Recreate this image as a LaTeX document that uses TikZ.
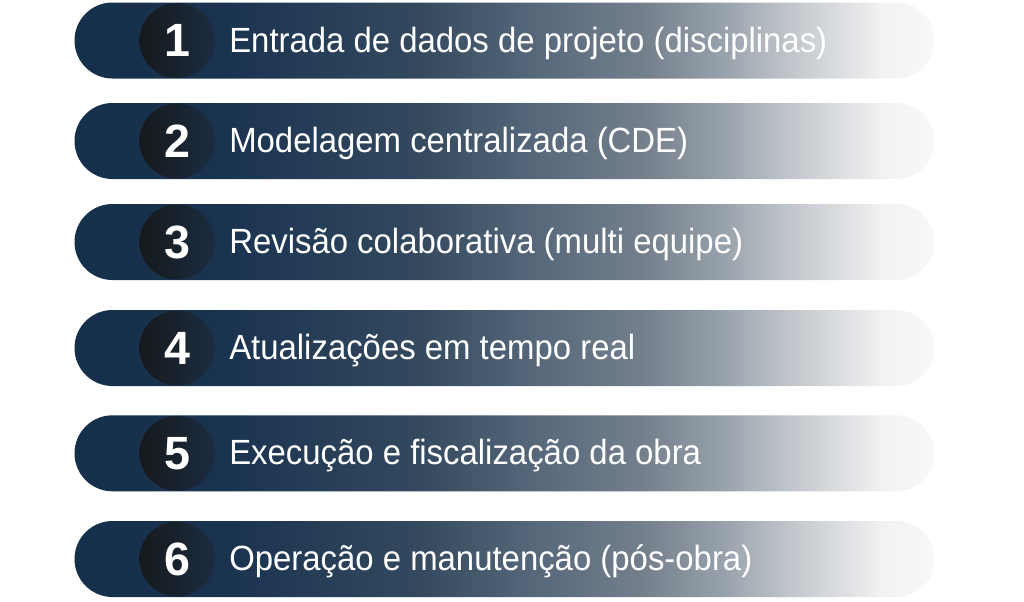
\documentclass[tikz,border=0pt]{standalone}
\usepackage{fontspec}
\setmainfont{Liberation Sans}
\newfontfamily\labelfont{Liberation Sans}[FakeStretch=0.94]
\usetikzlibrary{shapes.misc}
\definecolor{s0}{RGB}{21,48,74}
\definecolor{s1}{RGB}{26,51,80}
\definecolor{s2}{RGB}{52,73,94}
\definecolor{s3}{RGB}{90,107,125}
\definecolor{s4}{RGB}{116,127,140}
\definecolor{s5}{RGB}{150,160,170}
\definecolor{s6}{RGB}{197,201,206}
\definecolor{s7}{RGB}{242,242,243}
\definecolor{s8}{RGB}{248,248,248}
\definecolor{cl}{RGB}{22,25,28}
\definecolor{cr}{RGB}{27,44,64}
\pgfdeclarehorizontalshading{barshade}{100bp}{color(0bp)=(s0); color(25bp)=(s0); color(34bp)=(s1); color(45bp)=(s2); color(52.6bp)=(s3); color(58bp)=(s4); color(62.5bp)=(s5); color(67bp)=(s6); color(72bp)=(s7); color(75bp)=(s8); color(100bp)=(s8)}
\begin{document}
\begin{tikzpicture}[x=0.75pt,y=-0.75pt,
  barbox/.style={rounded rectangle, minimum width=645pt, minimum height=57pt, inner sep=0pt, shading=barshade},
  numdisc/.style={circle, minimum size=56.25pt, inner sep=0pt, left color=cl, right color=cr, text=white, font=\fontsize{35}{35}\selectfont\bfseries},
  lbl/.style={anchor=base west, inner sep=0pt, text=white, font=\labelfont\fontsize{26.25}{30}\selectfont}]
\useasboundingbox (0,0) rectangle (1024,601);
\node[barbox] (b1) at (504.5,40.5) {};
\node[barbox] (b2) at (504.5,141) {};
\node[barbox] (b3) at (504.5,242) {};
\node[barbox] (b4) at (504.5,348) {};
\node[barbox] (b5) at (504.5,453.3) {};
\node[barbox] (b6) at (504.5,559) {};
\node[numdisc] (n1) at (177,40.5) {1};
\node[numdisc] (n2) at (177,141) {2};
\node[numdisc] (n3) at (177,242) {3};
\node[numdisc] (n4) at (177,348) {4};
\node[numdisc] (n5) at (177,453.3) {5};
\node[numdisc] (n6) at (177,559) {6};
\node[lbl] (t1) at (229,52) {Entrada de dados de projeto (disciplinas)};
\node[lbl] (t2) at (229,152.5) {Modelagem centralizada (CDE)};
\node[lbl] (t3) at (229,253.5) {Revisão colaborativa (multi equipe)};
\node[lbl] (t4) at (229,359.5) {Atualizações em tempo real};
\node[lbl] (t5) at (229,464.8) {Execução e fiscalização da obra};
\node[lbl] (t6) at (229,570.5) {Operação e manutenção (pós-obra)};
\end{tikzpicture}
\end{document}
